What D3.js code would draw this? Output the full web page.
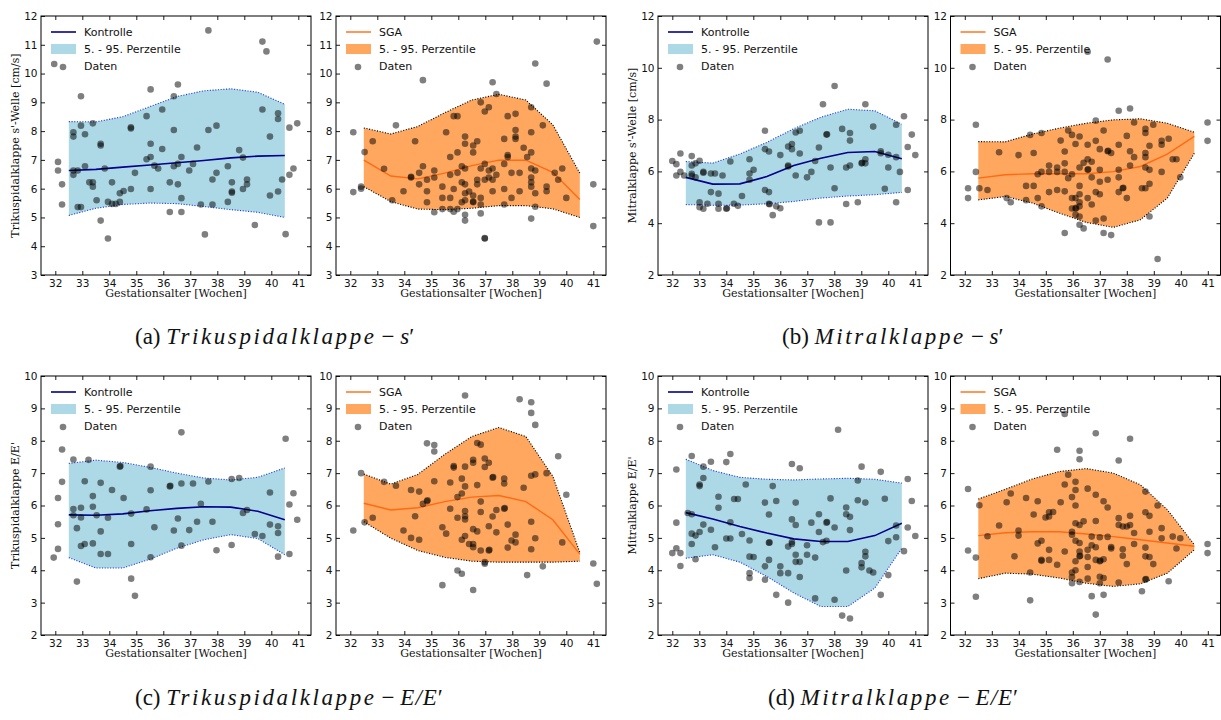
<!DOCTYPE html>
<html>
<head>
<meta charset="utf-8">
<script src="https://cdn.jsdelivr.net/npm/d3@7"></script>
<style>
  body { margin: 0; background: #fff; }
  svg { display: block; }
</style>
</head>
<body>
<script>
// Band / median positions (weeks)
const bandWeeks = [32.5, 33.5, 34.5, 35.5, 36.5, 37.5, 38.5, 39.5, 40.5];
const weekTicks = [32, 33, 34, 35, 36, 37, 38, 39, 40, 41];

// (a) Trikuspidalklappe s'
const tsKontMed = [6.63, 6.67, 6.75, 6.82, 6.9, 6.98, 7.07, 7.13, 7.15];
const tsKontLo = [5.07, 5.32, 5.45, 5.5, 5.48, 5.38, 5.27, 5.18, 5.0];
const tsKontHi = [8.33, 8.32, 8.5, 8.85, 9.2, 9.4, 9.47, 9.35, 8.93];
const tsKontPts = [[31.96,10.33],[32.1,6.93],[32.1,6.63],[32.25,6.15],[32.25,5.45],[32.67,7.96],[32.67,7.81],[32.67,6.63],[32.67,6.48],[32.83,6.63],[32.83,5.36],[32.95,5.36],[32.95,8.19],[32.95,9.21],[33.1,7.89],[33.1,6.78],[33.26,6.22],[33.39,8.27],[33.39,6.22],[33.39,6.07],[33.53,5.6],[33.68,7.56],[33.68,7.5],[33.68,4.89],[33.83,6.7],[33.95,4.27],[33.95,5.54],[34.1,6.22],[34.1,5.47],[34.24,5.47],[34.39,5.54],[34.39,5.84],[34.53,5.92],[34.8,8.09],[34.8,8.13],[34.8,5.99],[34.95,6.55],[35.38,8.52],[35.38,7.02],[35.53,9.45],[35.53,7.56],[35.53,7.1],[35.53,5.99],[35.67,6.8],[35.81,6.7],[35.96,8.75],[35.96,7.38],[36.24,6.22],[36.24,5.19],[36.39,9.21],[36.39,8.04],[36.39,6.78],[36.54,9.62],[36.54,6.86],[36.54,6.15],[36.67,7.1],[36.67,5.67],[36.67,5.19],[36.96,6.63],[37.1,6.86],[37.25,7.43],[37.39,5.45],[37.54,4.41],[37.67,11.5],[37.67,8.04],[37.82,6.32],[37.82,5.45],[37.97,8.19],[37.97,6.55],[38.39,6.78],[38.39,5.54],[38.54,6.22],[38.54,5.86],[38.54,5.9],[38.81,7.34],[38.95,7.08],[38.95,5.99],[39.1,6.32],[39.1,6.15],[39.39,4.74],[39.67,11.11],[39.67,8.75],[39.82,10.77],[39.95,7.81],[39.95,5.76],[40.25,8.62],[40.25,8.42],[40.25,5.9],[40.4,6.32],[40.53,4.42],[40.67,8.12],[40.67,6.48],[40.82,6.7],[40.96,8.27]];

const tsSgaMed = [6.99, 6.44, 6.34, 6.54, 6.8, 6.99, 6.99, 6.57, 5.62];
const tsSgaLo = [6.07, 5.55, 5.29, 5.27, 5.32, 5.41, 5.41, 5.3, 5.0];
const tsSgaHi = [8.11, 7.9, 8.16, 8.64, 9.08, 9.28, 9.08, 8.22, 6.54];
const tsSgaPts = [[32.11,7.96],[32.11,5.88],[32.4,6.07],[32.4,6.0],[32.53,7.27],[32.83,7.65],[33.25,6.69],[33.55,5.6],[33.69,8.2],[33.97,5.91],[34.25,6.39],[34.25,6.41],[34.4,7.65],[34.55,6.55],[34.55,6.15],[34.69,9.77],[34.69,6.78],[34.84,6.31],[34.84,5.91],[34.84,5.53],[35.11,6.63],[35.11,6.39],[35.11,5.18],[35.41,6.07],[35.41,5.68],[35.41,5.29],[35.55,7.96],[35.7,7.1],[35.7,6.48],[35.7,5.68],[35.7,5.29],[35.83,8.52],[35.83,5.99],[35.83,5.2],[35.97,8.52],[35.97,7.26],[35.97,6.55],[35.97,5.29],[36.13,6.78],[36.13,6.22],[36.13,5.53],[36.25,7.81],[36.25,7.56],[36.25,6.7],[36.25,6.15],[36.25,5.84],[36.25,5.6],[36.25,5.09],[36.25,4.89],[36.4,5.9],[36.55,7.5],[36.55,7.26],[36.55,5.76],[36.55,5.53],[36.55,5.55],[36.7,7.65],[36.7,6.31],[36.7,6.15],[36.83,9.0],[36.83,6.7],[36.83,5.68],[36.83,5.45],[36.83,5.14],[36.98,8.68],[36.98,6.86],[36.98,6.31],[36.98,4.27],[36.98,4.28],[37.13,8.83],[37.13,6.63],[37.13,6.39],[37.27,9.7],[37.27,6.7],[37.27,6.31],[37.27,5.91],[37.41,9.29],[37.41,6.48],[37.7,7.73],[37.7,6.86],[37.7,5.99],[37.7,5.45],[37.83,8.52],[37.83,7.17],[37.83,7.1],[37.97,6.55],[37.97,5.68],[38.12,8.6],[38.12,8.04],[38.12,7.81],[38.12,7.73],[38.27,6.55],[38.27,5.91],[38.42,7.42],[38.55,7.1],[38.7,8.83],[38.7,7.96],[38.7,7.26],[38.7,6.7],[38.7,6.39],[38.7,6.22],[38.7,6.07],[38.7,4.96],[38.85,10.35],[38.85,6.63],[38.85,5.84],[38.85,5.37],[39.13,8.2],[39.27,9.65],[39.27,6.07],[39.27,5.91],[39.57,6.55],[39.7,6.31],[39.85,6.7],[40.0,5.68],[41.0,6.15],[41.0,4.7],[41.13,11.11]];

// (b) Mitralklappe s'
const msKontMed = [5.77, 5.51, 5.52, 5.8, 6.23, 6.51, 6.73, 6.77, 6.49];
const msKontLo = [4.72, 4.69, 4.7, 4.75, 4.84, 4.97, 5.05, 5.1, 5.19];
const msKontHi = [6.38, 6.32, 6.67, 7.12, 7.65, 8.09, 8.4, 8.34, 7.82];
const msKontPts = [[32.0,6.4],[32.15,6.28],[32.15,5.84],[32.3,6.69],[32.3,5.98],[32.44,5.84],[32.72,6.59],[32.72,6.23],[32.72,5.91],[32.72,5.83],[32.86,5.77],[32.86,6.31],[33.01,6.41],[33.01,4.81],[33.01,4.62],[33.15,5.98],[33.15,5.95],[33.15,4.56],[33.3,4.75],[33.43,5.2],[33.43,5.92],[33.58,5.92],[33.71,5.14],[33.71,4.75],[33.71,4.56],[33.86,5.84],[34.0,4.56],[34.02,4.58],[34.15,6.38],[34.28,4.75],[34.43,4.67],[34.58,5.05],[34.86,6.47],[34.86,5.92],[34.86,5.68],[35.01,6.06],[35.43,7.57],[35.43,6.86],[35.43,5.28],[35.58,6.77],[35.58,5.2],[35.58,4.75],[35.6,4.73],[35.72,4.31],[35.85,4.65],[36.0,6.63],[36.0,4.58],[36.29,6.96],[36.29,6.23],[36.29,6.19],[36.43,7.06],[36.43,6.86],[36.57,7.5],[36.57,5.84],[36.72,7.57],[36.72,6.69],[36.99,5.77],[37.15,5.98],[37.29,6.4],[37.43,6.92],[37.43,4.03],[37.58,8.59],[37.71,7.42],[37.73,7.43],[37.86,6.15],[37.86,4.03],[38.01,9.3],[38.01,5.35],[38.29,7.64],[38.44,6.15],[38.44,4.74],[38.58,7.48],[38.58,7.19],[38.58,6.23],[38.87,4.81],[39.01,6.31],[39.03,6.33],[39.15,8.59],[39.15,6.47],[39.15,6.31],[39.44,7.73],[39.72,6.78],[39.72,6.7],[39.87,5.33],[40.0,6.64],[40.0,6.15],[40.29,7.8],[40.29,6.55],[40.29,4.81],[40.43,5.98],[40.58,8.13],[40.72,6.94],[40.72,5.28],[40.87,7.42],[41.0,6.63]];

const msSgaMed = [5.74, 5.87, 5.91, 5.91, 5.91, 5.99, 6.19, 6.67, 7.35];
const msSgaLo = [4.9, 5.03, 4.78, 4.39, 4.03, 3.84, 4.13, 4.97, 6.7];
const msSgaHi = [7.15, 7.14, 7.44, 7.67, 7.86, 7.99, 8.03, 7.86, 7.51];
const msSgaPts = [[32.12,5.35],[32.12,4.97],[32.41,7.8],[32.41,5.98],[32.54,5.35],[32.84,5.28],[33.27,6.74],[33.55,4.97],[33.7,4.81],[33.99,6.63],[34.27,5.44],[34.27,4.89],[34.42,7.41],[34.55,6.71],[34.55,5.44],[34.7,5.89],[34.7,4.97],[34.84,7.48],[34.84,5.98],[34.84,4.65],[35.12,6.23],[35.12,5.98],[35.12,5.2],[35.42,6.15],[35.42,5.98],[35.42,5.28],[35.55,7.19],[35.7,6.77],[35.7,6.31],[35.7,5.98],[35.7,3.62],[35.7,5.23],[35.83,5.74],[35.83,7.58],[35.97,7.41],[35.97,5.89],[35.97,4.97],[35.97,4.57],[36.1,7.06],[36.1,4.97],[36.1,4.57],[36.12,4.59],[36.1,4.33],[36.25,7.35],[36.25,6.15],[36.25,5.44],[36.25,5.12],[36.25,4.81],[36.25,4.65],[36.25,4.26],[36.25,3.94],[36.4,6.33],[36.4,3.8],[36.55,7.03],[36.55,6.47],[36.55,6.06],[36.57,6.08],[36.55,4.97],[36.55,10.62],[36.7,6.37],[36.7,5.77],[36.7,4.72],[36.85,7.96],[36.85,7.18],[36.85,5.2],[36.85,4.1],[37.0,6.86],[37.0,6.06],[37.0,5.6],[37.0,5.12],[37.14,7.58],[37.14,4.18],[37.14,3.62],[37.29,10.32],[37.29,6.78],[37.31,6.8],[37.29,5.68],[37.42,6.71],[37.42,3.54],[37.7,7.03],[37.7,6.06],[37.7,5.77],[37.7,5.2],[37.7,8.34],[37.85,5.35],[37.87,5.37],[38.0,7.37],[38.0,4.97],[38.12,8.43],[38.12,6.78],[38.12,6.23],[38.27,7.89],[38.27,6.55],[38.56,5.35],[38.69,7.64],[38.69,7.48],[38.69,6.71],[38.69,6.55],[38.69,6.15],[38.69,5.35],[38.84,6.99],[38.84,6.06],[38.84,5.52],[38.84,4.26],[38.98,7.8],[39.14,2.62],[39.29,7.18],[39.29,7.03],[39.29,5.98],[39.55,7.26],[39.7,6.47],[39.84,6.47],[39.98,5.77],[40.99,7.89],[40.99,7.18]];

// (c) Trikuspidalklappe E/E'
const teKontMed = [5.71, 5.7, 5.74, 5.84, 5.91, 5.96, 5.95, 5.82, 5.56];
const teKontLo = [4.39, 4.07, 4.07, 4.34, 4.68, 4.94, 5.1, 4.98, 4.48];
const teKontHi = [7.3, 7.4, 7.33, 7.18, 7.0, 6.85, 6.79, 6.87, 7.16];
const teKontPts = [[31.94,4.39],[32.1,4.66],[32.1,5.42],[32.1,6.23],[32.25,7.73],[32.25,6.73],[32.67,7.42],[32.67,5.89],[32.67,5.7],[32.8,5.3],[32.8,3.65],[32.95,5.93],[32.95,5.63],[32.95,4.75],[33.09,6.75],[33.09,4.81],[33.23,7.41],[33.39,6.29],[33.39,5.96],[33.39,4.83],[33.53,5.7],[33.68,6.7],[33.68,5.2],[33.68,4.5],[33.95,5.62],[33.95,4.5],[34.1,6.48],[34.39,7.2],[34.41,7.22],[34.53,6.23],[34.81,5.75],[34.81,4.81],[34.81,3.74],[34.95,3.21],[35.38,5.88],[35.53,7.2],[35.53,6.47],[35.53,4.4],[35.67,5.33],[36.24,6.59],[36.26,6.61],[36.39,5.23],[36.54,5.6],[36.67,8.26],[36.67,6.68],[36.67,4.76],[36.96,5.24],[37.1,6.68],[37.25,5.5],[37.39,6.05],[37.67,6.74],[37.82,5.5],[37.97,4.62],[38.53,6.82],[38.53,4.78],[38.81,6.85],[38.95,5.77],[39.1,5.86],[39.39,5.12],[39.67,5.06],[39.95,6.4],[39.95,5.41],[40.25,5.36],[40.25,5.15],[40.25,4.42],[40.53,8.06],[40.67,6.03],[40.67,4.5],[40.82,6.38],[40.96,5.56]];

const teSgaMed = [6.07, 5.86, 5.93, 6.12, 6.26, 6.31, 6.12, 5.56, 4.5];
const teSgaLo = [5.5, 4.99, 4.61, 4.4, 4.28, 4.25, 4.25, 4.25, 4.28];
const teSgaHi = [6.97, 6.66, 6.96, 7.58, 8.13, 8.41, 8.13, 6.9, 4.55];
const teSgaPts = [[32.11,5.23],[32.4,7.0],[32.53,5.48],[32.83,5.62],[33.25,6.73],[33.69,6.61],[33.97,5.23],[34.25,6.48],[34.25,5.0],[34.4,5.67],[34.55,6.43],[34.55,4.94],[34.69,6.05],[34.84,7.92],[34.84,6.13],[34.86,6.16],[35.11,7.87],[35.11,7.67],[35.11,6.75],[35.41,5.33],[35.41,3.54],[35.55,5.13],[35.7,6.71],[35.7,5.9],[35.83,7.22],[35.83,7.17],[35.97,6.26],[35.97,5.62],[35.97,3.99],[36.13,6.83],[36.13,6.37],[36.13,4.94],[36.13,3.89],[36.25,9.4],[36.25,7.2],[36.25,6.59],[36.25,5.83],[36.25,5.67],[36.25,5.57],[36.25,5.06],[36.4,4.81],[36.55,7.41],[36.55,7.32],[36.55,5.27],[36.55,4.81],[36.55,4.71],[36.55,3.39],[36.7,7.93],[36.7,6.63],[36.7,5.2],[36.83,7.88],[36.83,6.12],[36.83,5.8],[36.83,4.61],[36.98,7.45],[36.98,7.19],[36.98,4.25],[36.98,4.2],[37.13,7.32],[37.13,5.36],[37.13,4.61],[37.15,4.63],[37.27,6.86],[37.29,6.88],[37.27,5.66],[37.41,5.86],[37.41,5.17],[37.7,6.83],[37.7,6.68],[37.7,5.9],[37.72,5.92],[37.83,5.41],[37.83,4.7],[37.97,4.92],[38.12,5.1],[38.12,4.86],[38.27,9.28],[38.42,6.55],[38.55,3.85],[38.7,9.19],[38.7,8.86],[38.7,6.92],[38.7,5.5],[38.7,4.65],[38.85,8.49],[38.85,6.96],[38.85,4.99],[39.13,4.12],[39.27,7.0],[39.7,7.52],[39.85,4.86],[40.0,6.33],[41.0,4.21],[41.13,3.58]];

// (d) Mitralklappe E/E'
const meKontMed = [5.78, 5.58, 5.35, 5.15, 4.97, 4.89, 4.89, 5.07, 5.45];
const meKontLo = [4.37, 4.48, 4.25, 3.81, 3.3, 2.88, 2.88, 3.45, 4.68];
const meKontHi = [7.43, 7.08, 6.87, 6.81, 6.79, 6.82, 6.84, 6.81, 6.69];
const meKontPts = [[32.0,4.53],[32.15,7.11],[32.15,5.47],[32.15,4.68],[32.3,4.53],[32.3,4.13],[32.57,5.77],[32.72,7.53],[32.72,5.73],[32.72,5.13],[32.72,4.81],[32.86,5.07],[32.86,4.34],[33.01,6.65],[33.01,6.6],[33.01,5.18],[33.15,7.2],[33.15,6.85],[33.15,5.41],[33.43,7.35],[33.43,5.25],[33.58,4.71],[33.71,6.27],[33.71,5.93],[34.0,7.34],[34.0,4.98],[34.15,7.59],[34.15,5.48],[34.15,4.98],[34.29,6.2],[34.43,6.2],[34.58,5.12],[34.72,6.65],[34.86,4.92],[34.86,4.42],[34.86,3.91],[34.86,3.76],[35.01,4.41],[35.43,6.09],[35.43,4.12],[35.43,3.71],[35.58,5.72],[35.58,4.85],[35.6,4.86],[35.58,4.32],[35.72,6.6],[35.85,6.14],[35.85,3.24],[36.0,4.12],[36.0,3.91],[36.29,4.73],[36.29,3.91],[36.29,3.0],[36.43,7.28],[36.43,5.57],[36.43,4.87],[36.43,4.81],[36.57,6.09],[36.57,5.4],[36.57,4.48],[36.57,4.26],[36.72,7.15],[36.72,4.26],[36.72,3.79],[36.99,4.77],[36.99,4.48],[37.15,5.47],[37.29,4.39],[37.29,3.13],[37.43,5.73],[37.43,5.18],[37.58,4.87],[37.71,5.47],[37.73,5.49],[37.71,4.91],[37.86,6.22],[38.01,5.32],[38.01,3.09],[38.14,8.34],[38.29,2.6],[38.44,5.94],[38.44,5.73],[38.44,3.99],[38.58,5.65],[38.58,5.24],[38.58,2.51],[38.87,6.77],[38.87,6.16],[39.01,7.2],[39.01,4.22],[39.01,4.09],[39.15,6.09],[39.15,4.57],[39.15,4.43],[39.3,3.99],[39.44,3.93],[39.72,7.04],[39.72,3.24],[39.87,6.21],[40.0,4.9],[40.0,3.85],[40.29,5.38],[40.29,5.02],[40.58,4.59],[40.72,6.82],[40.72,5.32],[40.87,6.14],[41.0,5.06]];

const meSgaMed = [5.07, 5.16, 5.19, 5.19, 5.12, 5.04, 4.94, 4.84, 4.74];
const meSgaLo = [3.74, 3.91, 3.88, 3.76, 3.6, 3.5, 3.58, 3.91, 4.63];
const meSgaHi = [6.2, 6.5, 6.82, 7.05, 7.14, 7.0, 6.64, 5.87, 4.79];
const meSgaPts = [[32.12,6.51],[32.12,4.61],[32.41,4.39],[32.41,3.18],[32.54,6.01],[32.84,5.05],[33.27,5.38],[33.55,6.1],[33.7,6.37],[33.84,4.43],[33.99,5.23],[33.99,5.07],[34.27,6.23],[34.42,3.93],[34.42,3.07],[34.55,5.72],[34.7,6.13],[34.7,4.83],[34.84,4.91],[34.84,4.32],[34.84,4.29],[34.99,5.63],[35.12,5.79],[35.12,5.66],[35.12,4.63],[35.12,4.32],[35.27,5.8],[35.42,7.72],[35.42,4.17],[35.55,6.1],[35.7,6.65],[35.7,4.58],[35.7,8.83],[35.83,6.95],[35.97,6.26],[35.97,5.19],[35.97,5.1],[35.97,3.93],[35.97,3.79],[35.97,3.6],[36.1,6.73],[36.1,6.48],[36.1,6.0],[36.1,5.45],[36.1,4.91],[36.1,4.28],[36.1,4.0],[36.25,7.69],[36.25,7.43],[36.25,5.4],[36.25,4.84],[36.25,4.58],[36.25,4.43],[36.27,4.45],[36.25,3.64],[36.4,5.51],[36.55,6.52],[36.55,4.63],[36.55,4.41],[36.55,4.1],[36.55,3.74],[36.7,5.04],[36.7,4.77],[36.7,3.2],[36.85,8.23],[36.85,6.33],[36.85,5.52],[36.85,4.71],[36.85,4.32],[36.85,2.63],[37.0,5.02],[37.0,4.28],[37.02,4.3],[37.0,3.8],[37.0,3.6],[37.14,6.13],[37.14,4.34],[37.14,3.76],[37.14,3.24],[37.29,5.94],[37.29,5.03],[37.42,4.72],[37.42,4.67],[37.7,7.39],[37.7,5.61],[37.7,5.4],[37.7,3.62],[37.85,5.35],[37.85,4.65],[37.85,4.45],[38.0,5.35],[38.0,4.19],[38.12,8.06],[38.12,5.68],[38.12,5.4],[38.27,5.15],[38.27,4.81],[38.56,3.35],[38.69,6.43],[38.69,5.79],[38.69,4.7],[38.69,4.43],[38.69,3.71],[38.71,3.73],[38.84,5.68],[38.84,5.19],[38.84,4.41],[38.98,4.19],[39.14,6.0],[39.29,5.3],[39.29,4.99],[39.55,3.66],[39.7,5.04],[39.84,4.67],[39.98,4.99],[40.99,4.81],[40.99,4.53]];

// Axis texts
const xLabel = "Gestationsalter [Wochen]";
const yLabels = ["Trikuspidalklappe s'-Welle [cm/s]", "Mitralklappe s'-Welle [cm/s]", "Trikuspidalklappe E/E'", "Mitralklappe E/E'"];
const legendLabels = { kont: "Kontrolle", sga: "SGA", band: "5. - 95. Perzentile", dots: "Daten" };

// Layout
const W = 1221, H = 720;
const pw = 270, ph = 259;
const colLeft = [41, 336, 658, 950.5];
const rowTop = [16, 376];

const palette = {
  kont: { fill: "#add8e6", line: "#00008b", edge: "#1c3cd6" },
  sga: { fill: "#ffa75e", line: "#ff6a13", edge: "#000" }
};

const panels = [
  { col: 0, row: 0, grp: "kont", yDom: [3, 12], yTicks: d3.range(3, 13), ylab: yLabels[0], med: tsKontMed, lo: tsKontLo, hi: tsKontHi, pts: tsKontPts },
  { col: 1, row: 0, grp: "sga", yDom: [3, 12], yTicks: d3.range(3, 13), med: tsSgaMed, lo: tsSgaLo, hi: tsSgaHi, pts: tsSgaPts },
  { col: 2, row: 0, grp: "kont", yDom: [2, 12], yTicks: d3.range(2, 13, 2), ylab: yLabels[1], med: msKontMed, lo: msKontLo, hi: msKontHi, pts: msKontPts },
  { col: 3, row: 0, grp: "sga", yDom: [2, 12], yTicks: d3.range(2, 13, 2), med: msSgaMed, lo: msSgaLo, hi: msSgaHi, pts: msSgaPts },
  { col: 0, row: 1, grp: "kont", yDom: [2, 10], yTicks: d3.range(2, 11), ylab: yLabels[2], med: teKontMed, lo: teKontLo, hi: teKontHi, pts: teKontPts },
  { col: 1, row: 1, grp: "sga", yDom: [2, 10], yTicks: d3.range(2, 11), med: teSgaMed, lo: teSgaLo, hi: teSgaHi, pts: teSgaPts },
  { col: 2, row: 1, grp: "kont", yDom: [2, 10], yTicks: d3.range(2, 11), ylab: yLabels[3], med: meKontMed, lo: meKontLo, hi: meKontHi, pts: meKontPts },
  { col: 3, row: 1, grp: "sga", yDom: [2, 10], yTicks: d3.range(2, 11), med: meSgaMed, lo: meSgaLo, hi: meSgaHi, pts: meSgaPts }
];

const svg = d3.select("body").append("svg")
  .attr("width", W)
  .attr("height", H);

const tickFont = "'DejaVu Sans', sans-serif";
const labelFont = "'DejaVu Serif', serif";

function drawPanel(p) {
  const left = colLeft[p.col], top = rowTop[p.row];
  const col = palette[p.grp];

  const x = d3.scaleLinear().domain([31.47, 41.47]).range([left, left + pw]);
  const y = d3.scaleLinear().domain(p.yDom).range([top + ph, top]);

  const g = svg.append("g");
  const rows = bandWeeks.map((w, i) => ({ w, lo: p.lo[i], hi: p.hi[i], med: p.med[i] }));

  // 5-95 band
  g.append("path")
    .datum(rows)
    .attr("fill", col.fill)
    .attr("d", d3.area().x(d => x(d.w)).y0(d => y(d.lo)).y1(d => y(d.hi)));

  // dotted band edges
  ["lo", "hi"].forEach(k => {
    g.append("path")
      .datum(rows)
      .attr("fill", "none")
      .attr("stroke", col.edge)
      .attr("stroke-width", 1.1)
      .attr("stroke-dasharray", "1.1,1.6")
      .attr("d", d3.line().x(d => x(d.w)).y(d => y(d[k])));
  });

  // median
  g.append("path")
    .datum(rows)
    .attr("fill", "none")
    .attr("stroke", col.line)
    .attr("stroke-width", p.grp === "kont" ? 1.6 : 1.4)
    .attr("d", d3.line().x(d => x(d.w)).y(d => y(d.med)));

  // data points
  g.selectAll("circle.pt")
    .data(p.pts)
    .join("circle")
    .attr("class", "pt")
    .attr("cx", d => x(d[0]))
    .attr("cy", d => y(d[1]))
    .attr("r", 3.3)
    .attr("fill", "#000")
    .attr("fill-opacity", 0.5);

  // axes, ticks pointing inward on all four sides
  const styleAxis = sel => {
    sel.select(".domain").remove();
    sel.selectAll(".tick line").attr("stroke", "#000").attr("stroke-width", 0.9);
    sel.selectAll(".tick text").attr("fill", "#111").style("font-family", tickFont).style("font-size", "10.5px");
  };

  g.append("g")
    .attr("transform", `translate(0,${top + ph})`)
    .call(d3.axisBottom(x).tickValues(weekTicks).tickSize(-4).tickPadding(4.5).tickFormat(d3.format("d")))
    .call(styleAxis);
  g.append("g")
    .attr("transform", `translate(0,${top})`)
    .call(d3.axisTop(x).tickValues(weekTicks).tickSize(-4).tickFormat(""))
    .call(styleAxis);
  g.append("g")
    .attr("transform", `translate(${left},0)`)
    .call(d3.axisLeft(y).tickValues(p.yTicks).tickSize(-4).tickPadding(3.5).tickFormat(d3.format("d")))
    .call(styleAxis);
  g.append("g")
    .attr("transform", `translate(${left + pw},0)`)
    .call(d3.axisRight(y).tickValues(p.yTicks).tickSize(-4).tickFormat(""))
    .call(styleAxis);

  // frame
  g.append("rect")
    .attr("x", left).attr("y", top)
    .attr("width", pw).attr("height", ph)
    .attr("fill", "none")
    .attr("stroke", "#000")
    .attr("stroke-width", 1);

  // axis labels
  g.append("text")
    .attr("x", left + pw / 2)
    .attr("y", top + ph + 22)
    .attr("text-anchor", "middle")
    .style("font-family", labelFont)
    .style("font-size", "11px")
    .attr("fill", "#111")
    .text(xLabel);

  if (p.ylab) {
    g.append("text")
      .attr("transform", `translate(${left - 22},${top + ph / 2}) rotate(-90)`)
      .attr("text-anchor", "middle")
      .style("font-family", labelFont)
      .style("font-size", "11px")
      .attr("fill", "#111")
      .text(p.ylab);
  }

  // legend (no frame)
  const lg = g.append("g").attr("transform", `translate(${left + 10},${top})`);
  lg.append("line")
    .attr("x1", 0).attr("x2", 25)
    .attr("y1", 16).attr("y2", 16)
    .attr("stroke", col.line)
    .attr("stroke-width", p.grp === "kont" ? 1.6 : 1.4);
  lg.append("rect")
    .attr("x", 0).attr("y", 28)
    .attr("width", 25).attr("height", 10)
    .attr("fill", col.fill);
  lg.append("circle")
    .attr("cx", 12).attr("cy", 51)
    .attr("r", 3.3)
    .attr("fill", "#000")
    .attr("fill-opacity", 0.5);
  const texts = [legendLabels[p.grp], legendLabels.band, legendLabels.dots];
  texts.forEach((t, i) => {
    lg.append("text")
      .attr("x", 33)
      .attr("y", 16 + i * 16.8)
      .attr("dy", "0.36em")
      .style("font-family", tickFont)
      .style("font-size", "11px")
      .attr("fill", "#111")
      .text(t);
  });
}

panels.forEach(drawPanel);

// Sub-figure captions
const captions = [
  { x: 135, y: 344, tag: "(a)", name: "Trikuspidalklappe", sym: "s" },
  { x: 782, y: 344, tag: "(b)", name: "Mitralklappe", sym: "s" },
  { x: 135, y: 705, tag: "(c)", name: "Trikuspidalklappe", sym: "E/E" },
  { x: 768, y: 705, tag: "(d)", name: "Mitralklappe", sym: "E/E" }
];

captions.forEach(c => {
  const t = svg.append("text")
    .attr("x", c.x)
    .attr("y", c.y)
    .style("font-family", "'Liberation Serif', serif")
    .style("font-size", "23px")
    .attr("fill", "#111");
  t.append("tspan").text(c.tag + " ");
  t.append("tspan")
    .style("font-style", "italic")
    .style("letter-spacing", "2.6px")
    .text(c.name);
  t.append("tspan").attr("dx", 5).text("\u2212 ");
  t.append("tspan")
    .style("font-style", "italic")
    .style("letter-spacing", c.sym.length > 1 ? "1px" : "0px")
    .text(c.sym);
  t.append("tspan").text("\u2032");
});
</script>
</body>
</html>
